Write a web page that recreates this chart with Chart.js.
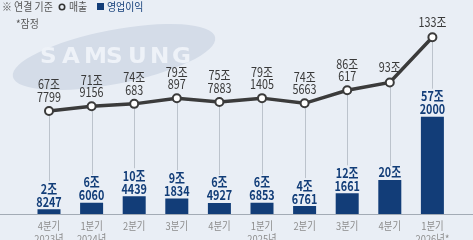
<!DOCTYPE html>
<html>
<head>
<meta charset="utf-8">
<script src="https://cdn.jsdelivr.net/npm/chart.js@4/dist/chart.umd.min.js"></script>
<style>
html,body{margin:0;padding:0;background:#e9eef5;}
#wrap{width:473px;height:240px;position:relative;}
</style>
</head>
<body>
<div id="wrap"><canvas id="c" width="473" height="240"></canvas></div>
<script>
const quarters = ['4분기','1분기','2분기','3분기','4분기','1분기','2분기','3분기','4분기','1분기'];
const years = ['2023년','2024년','','','','2025년','','','','2026년*'];
const revenue = [67.7799, 71.9156, 74.0683, 79.0897, 75.7883, 79.1405, 74.5663, 86.0617, 93, 133];
const profit = [2.8247, 6.6060, 10.4439, 9.1834, 6.4927, 6.6853, 4.6761, 12.1661, 20, 57.2];
const revLabelTop = ['67조','71조','74조','79조','75조','79조','74조','86조','93조','133조'];
const revLabelBottom = ['7799','9156','683','897','7883','1405','5663','617','',''];
const proLabelTop = ['2조','6조','10조','9조','6조','6조','4조','12조','20조','57조'];
const proLabelBottom = ['8247','6060','4439','1834','4927','6853','6761','1661','','2000'];

const NAVY = '#123d78';
const LINE = '#3b3b3b';
const CJK = '"Noto Sans CJK KR", "Noto Sans", sans-serif';

function txt(ctx, s, x, y, font, color, sx, align){
  ctx.save();
  ctx.translate(x, y);
  ctx.scale(sx, 1);
  ctx.font = font;
  ctx.fillStyle = color;
  ctx.textAlign = align || 'center';
  ctx.textBaseline = 'alphabetic';
  ctx.fillText(s, 0, 0);
  ctx.restore();
}

const decor = {
  id: 'decor',
  beforeDraw(chart){
    const ctx = chart.ctx;
    ctx.save();
    ctx.fillStyle = '#e9eef5';
    ctx.fillRect(0, 0, chart.width, chart.height);
    ctx.translate(114, 57);
    ctx.rotate(-11 * Math.PI / 180);
    ctx.beginPath();
    ctx.ellipse(0, 0, 103, 27, 0, 0, Math.PI * 2);
    ctx.fillStyle = '#d4dce8';
    ctx.fill();
    ctx.restore();
    ctx.save();
    ctx.font = 'bold 22px "DejaVu Sans", sans-serif';
    ctx.fillStyle = '#eef2f8';
    ctx.textBaseline = 'alphabetic';
    const letters = 'SAMSUNG';
    for (let i = 0; i < letters.length; i++) {
      ctx.save();
      ctx.translate(40 + i * 22, 63);
      ctx.scale(1.05, 1);
      ctx.fillText(letters[i], 0, 0);
      ctx.restore();
    }
    ctx.restore();
    txt(ctx, '※ 연결 기준', 2, 11, '11px ' + CJK, '#555', 0.9, 'left');
    ctx.save();
    ctx.beginPath();
    ctx.arc(62, 7, 2.7, 0, Math.PI * 2);
    ctx.strokeStyle = '#333';
    ctx.lineWidth = 1.6;
    ctx.stroke();
    ctx.restore();
    txt(ctx, '매출', 69, 11, '11px ' + CJK, '#555', 0.9, 'left');
    ctx.fillStyle = NAVY;
    ctx.fillRect(97, 3, 7, 7);
    txt(ctx, '영업이익', 107, 11, '11px ' + CJK, NAVY, 0.9, 'left');
    txt(ctx, '*잠정', 16, 28, '11px ' + CJK, '#555', 0.9, 'left');
  },
  beforeDatasetsDraw(chart){
    const ctx = chart.ctx;
    const xs = chart.scales.x, yb = chart.scales.y, yl = chart.scales.y1;
    ctx.save();
    const base = yb.getPixelForValue(0);
    ctx.strokeStyle = '#a3abb5';
    ctx.lineWidth = 1;
    ctx.beginPath();
    ctx.moveTo(0, base + 0.5);
    ctx.lineTo(chart.width, base + 0.5);
    ctx.stroke();
    ctx.strokeStyle = '#bcc3cc';
    for (let i = 0; i < revenue.length; i++) {
      const x = Math.round(xs.getPixelForValue(i)) + 0.5;
      const py = yl.getPixelForValue(revenue[i]);
      const top = yb.getPixelForValue(profit[i]);
      const lblTop = top - (proLabelBottom[i] ? 28 : 14);
      ctx.beginPath();
      ctx.moveTo(x, py + 4);
      ctx.lineTo(x, lblTop);
      ctx.stroke();
    }
    ctx.restore();
  },
  afterDatasetsDraw(chart){
    const ctx = chart.ctx;
    const xs = chart.scales.x, yb = chart.scales.y, yl = chart.scales.y1;
    for (let i = 0; i < revenue.length; i++) {
      const x = xs.getPixelForValue(i);
      const py = yl.getPixelForValue(revenue[i]);
      const rf = '13.5px ' + CJK;
      if (revLabelBottom[i]) {
        txt(ctx, revLabelBottom[i], x, py - 9, rf, '#3a3a3a', 0.8);
        txt(ctx, revLabelTop[i], x, py - 21.5, rf, '#3a3a3a', 0.8);
      } else {
        txt(ctx, revLabelTop[i], x, py - 10, rf, '#3a3a3a', 0.8);
      }
      const top = yb.getPixelForValue(profit[i]);
      const pf = 'bold 13.5px ' + CJK;
      if (proLabelBottom[i]) {
        txt(ctx, proLabelBottom[i], x, top - 2.5, pf, NAVY, 0.8);
        txt(ctx, proLabelTop[i], x, top - 15.5, pf, NAVY, 0.8);
      } else {
        txt(ctx, proLabelTop[i], x, top - 2.5, pf, NAVY, 0.8);
      }
      const cf = '11px ' + CJK;
      txt(ctx, quarters[i], x, 230, cf, '#8c8c8c', 0.85);
      if (years[i]) txt(ctx, years[i], x, 243, cf, '#8c8c8c', 0.85);
    }
  }
};

new Chart(document.getElementById('c'), {
  data: {
    labels: quarters,
    datasets: [
      {
        type: 'line',
        data: revenue,
        yAxisID: 'y1',
        borderColor: LINE,
        borderWidth: 3.5,
        pointRadius: 4,
        pointBorderWidth: 2,
        pointBackgroundColor: '#ffffff',
        pointBorderColor: LINE,
        tension: 0,
        order: 0
      },
      {
        type: 'bar',
        data: profit,
        yAxisID: 'y',
        backgroundColor: NAVY,
        barPercentage: 0.54,
        categoryPercentage: 1,
        order: 1
      }
    ]
  },
  options: {
    responsive: false,
    animation: false,
    layout: { padding: { left: 27.7, right: 19.3, top: 14, bottom: 26 } },
    plugins: { legend: { display: false }, tooltip: { enabled: false } },
    scales: {
      x: { display: false, offset: true },
      y: { display: false, min: 0, max: 117.6 },
      y1: { display: false, min: -23.4, max: 153.6, position: 'right' }
    }
  },
  plugins: [decor]
});
</script>
</body>
</html>
